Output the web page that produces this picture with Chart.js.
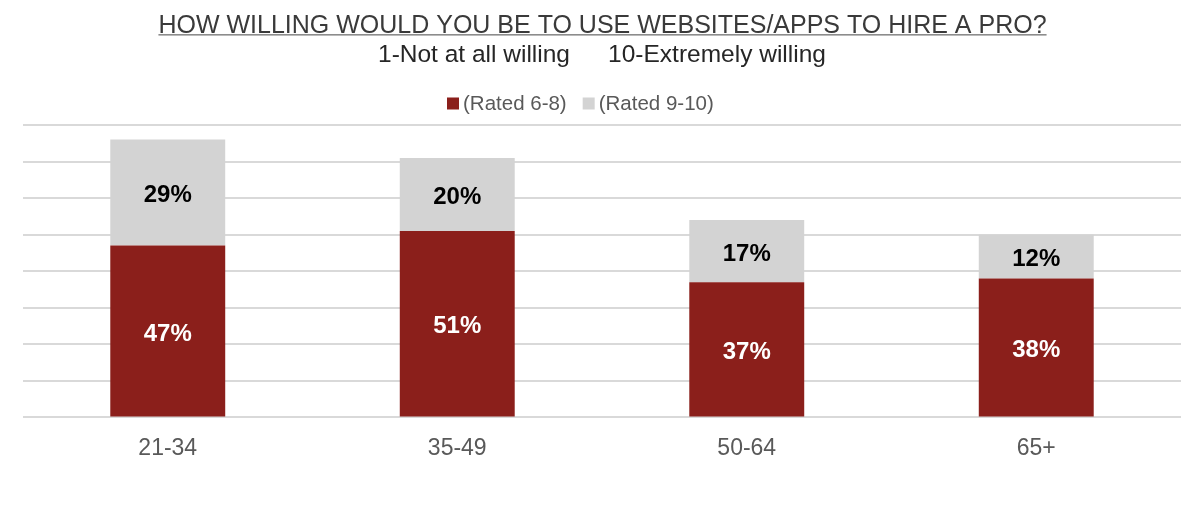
<!DOCTYPE html>
<html>
<head>
<meta charset="utf-8">
<script src="https://cdn.jsdelivr.net/npm/chart.js@4"></script>
<style>
html,body{margin:0;padding:0;background:#fff;}
#wrap{width:1204px;height:522px;position:relative;}
</style>
</head>
<body>
<div id="wrap"><canvas id="c" width="1204" height="522"></canvas></div>
<script>
const categories = ['21-34', '35-49', '50-64', '65+'];
const rated68 = [47, 51, 37, 38];
const rated910 = [29, 20, 17, 12];
const seriesNames = ['(Rated 6-8)', '(Rated 9-10)'];
const seriesColors = ['#8B1F1B', '#D3D3D3'];
const titleText = 'HOW WILLING WOULD YOU BE TO USE WEBSITES/APPS TO HIRE A PRO?';
const subtitleParts = ['1-Not at all willing', '10-Extremely willing'];

const FONT = '"Liberation Sans", Arial, Helvetica, sans-serif';

const titlePlugin = {
  id: 'titlePlugin',
  afterDraw(chart) {
    const ctx = chart.ctx;
    ctx.save();
    ctx.textAlign = 'center';
    ctx.textBaseline = 'alphabetic';
    ctx.font = '25px ' + FONT;
    const cx = 602.5;
    ctx.fillStyle = '#3a3a3a';
    ctx.fillText(titleText, cx, 33);
    const w = ctx.measureText(titleText).width;
    ctx.fillStyle = '#8c8c8c';
    ctx.fillRect(cx - w / 2, 34, w, 1.6);
    ctx.fillStyle = '#262626';
    ctx.font = '24.5px ' + FONT;
    ctx.fillText(subtitleParts[0], 474, 62);
    ctx.fillText(subtitleParts[1], 717, 62);

    // legend
    ctx.font = '20.5px ' + FONT;
    ctx.textAlign = 'left';
    ctx.textBaseline = 'middle';
    let x = 447;
    chart.data.datasets.forEach((ds, i) => {
      ctx.fillStyle = ds.backgroundColor;
      ctx.fillRect(x, 97.5, 12, 12);
      ctx.fillStyle = '#595959';
      ctx.fillText(ds.label, x + 16, 104);
      x += 16 + ctx.measureText(ds.label).width + 16;
    });
    ctx.restore();
  }
};

const labelPlugin = {
  id: 'labelPlugin',
  afterDatasetsDraw(chart) {
    const ctx = chart.ctx;
    ctx.save();
    ctx.font = 'bold 24px ' + FONT;
    ctx.textAlign = 'center';
    ctx.textBaseline = 'middle';
    chart.data.datasets.forEach((ds, di) => {
      const meta = chart.getDatasetMeta(di);
      meta.data.forEach((bar, i) => {
        const p = bar.getProps(['x', 'y', 'base'], true);
        ctx.fillStyle = di === 0 ? '#ffffff' : '#000000';
        ctx.fillText(ds.data[i] + '%', p.x, (p.y + p.base) / 2 + 3);
      });
    });
    ctx.restore();
  }
};

new Chart(document.getElementById('c'), {
  type: 'bar',
  data: {
    labels: categories,
    datasets: [
      { label: seriesNames[0], data: rated68, backgroundColor: seriesColors[0], barPercentage: 0.397, categoryPercentage: 1 },
      { label: seriesNames[1], data: rated910, backgroundColor: seriesColors[1], barPercentage: 0.397, categoryPercentage: 1 }
    ]
  },
  options: {
    responsive: false,
    animation: false,
    devicePixelRatio: 1,
    layout: { padding: { left: 23, right: 23, top: 125, bottom: 51 } },
    plugins: {
      title: { display: false },
      tooltip: { enabled: false },
      legend: { display: false }
    },
    scales: {
      x: {
        stacked: true,
        grid: { display: false },
        border: { display: false },
        ticks: { color: '#595959', font: { family: FONT, size: 23 }, padding: 9 }
      },
      y: {
        stacked: true,
        min: 0, max: 80,
        ticks: { display: false, stepSize: 10 },
        border: { display: false },
        grid: { color: '#D9D9D9', lineWidth: 2, drawTicks: false }
      }
    }
  },
  plugins: [titlePlugin, labelPlugin]
});
</script>
</body>
</html>
